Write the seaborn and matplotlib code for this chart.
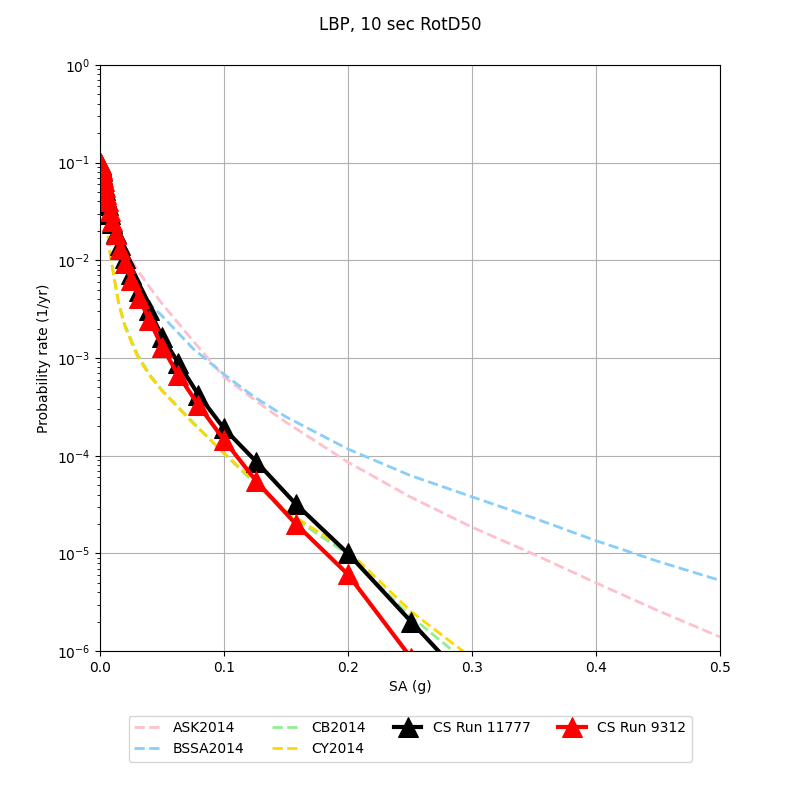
import numpy as np
import pandas as pd
import seaborn as sns
import matplotlib
matplotlib.use('Agg')
import matplotlib.pyplot as plt

# GMPE hazard curves (dashed)
gmpe_x = [0.0001, 0.001, 0.002, 0.003, 0.005, 0.0075, 0.01, 0.015, 0.02, 0.03,
          0.04, 0.05, 0.075, 0.1, 0.125, 0.15, 0.2, 0.25, 0.3, 0.35, 0.4, 0.45,
          0.5]
ask = [0.1, 0.095, 0.085, 0.075, 0.055, 0.038, 0.028, 0.018, 0.0135, 0.008,
       0.0053, 0.0036, 0.0015, 6.4e-4, 3.7e-4, 2.2e-4, 8.6e-5, 3.8e-5, 1.86e-5,
       9.8e-6, 5.0e-6, 2.6e-6, 1.4e-6]
bssa = [0.1, 0.093, 0.08, 0.068, 0.048, 0.032, 0.023, 0.014, 0.0095, 0.0053,
        0.0036, 0.0027, 0.00125, 6.8e-4, 3.95e-4, 2.5e-4, 1.17e-4, 6.3e-5,
        3.8e-5, 2.3e-5, 1.35e-5, 8.3e-6, 5.3e-6]
cb = [0.1, 0.087, 0.067, 0.052, 0.029, 0.0135, 0.0086, 0.0037, 0.0022, 0.0011,
      6.8e-4, 4.7e-4, 2.2e-4, 1.05e-4, 5.2e-5, 2.6e-5, 9.8e-6, 2.3e-6, 7e-7,
      1.5e-7, 4e-8, 1e-8, 3e-9]
cy = [0.1, 0.085, 0.065, 0.05, 0.028, 0.013, 0.0083, 0.0036, 0.0021, 0.00105,
      6.6e-4, 4.6e-4, 2.15e-4, 1.07e-4, 5.4e-5, 2.7e-5, 1.07e-5, 2.6e-6,
      8.5e-7, 2e-7, 6e-8, 1.5e-8, 4e-9]

# CyberShake runs (markers)
cs_x = [0.0001, 0.000126, 0.000158, 0.0002, 0.000251, 0.000316, 0.000398,
        0.000501, 0.000631, 0.000794, 0.001, 0.00126, 0.00158, 0.002, 0.00251,
        0.00316, 0.00398, 0.00501, 0.00631, 0.00794, 0.01, 0.0126, 0.0158,
        0.02, 0.0251, 0.0316, 0.0398, 0.0501, 0.0631, 0.0794, 0.1, 0.126,
        0.158, 0.2, 0.251, 0.316]
run_11777 = [0.098, 0.098, 0.0975, 0.097, 0.0965, 0.096, 0.095, 0.094, 0.092,
             0.089, 0.086, 0.082, 0.077, 0.072, 0.066, 0.059, 0.052, 0.044,
             0.037, 0.030, 0.024, 0.019, 0.0142, 0.0105, 0.0073, 0.0049,
             0.0031, 0.00165, 8.9e-4, 4.2e-4, 1.9e-4, 8.7e-5, 3.2e-5, 1.0e-5,
             2.0e-6, 2.6e-7]
run_9312 = [0.100, 0.100, 0.0995, 0.099, 0.0985, 0.098, 0.097, 0.096, 0.094,
            0.092, 0.089, 0.086, 0.082, 0.077, 0.071, 0.064, 0.056, 0.048,
            0.040, 0.032, 0.025, 0.0185, 0.013, 0.0094, 0.0063, 0.0041,
            0.00245, 0.0013, 6.7e-4, 3.3e-4, 1.45e-4, 5.5e-5, 2.0e-5, 6.1e-6,
            8.5e-7, 6e-8]

gmpes = [('ASK2014', ask, 'pink'), ('BSSA2014', bssa, 'lightskyblue'),
         ('CB2014', cb, 'lightgreen'), ('CY2014', cy, 'gold')]
runs = [('CS Run 11777', run_11777, 'black'), ('CS Run 9312', run_9312, 'red')]

fig, ax = plt.subplots(figsize=(8, 8), dpi=100)
fig.subplots_adjust(left=0.125, right=0.9, top=0.919, bottom=0.186)

for name, vals, col in gmpes:
    df = pd.DataFrame({'x': gmpe_x, 'y': vals})
    sns.lineplot(data=df, x='x', y='y', ax=ax, color=col, linestyle='--',
                 linewidth=2, label=name, sort=False, estimator=None)

for name, vals, col in runs:
    df = pd.DataFrame({'x': cs_x, 'y': vals})
    sns.lineplot(data=df, x='x', y='y', ax=ax, color=col, linewidth=3,
                 marker='^', markersize=15, markeredgecolor=col,
                 label=name, sort=False, estimator=None)

ax.set_yscale('log')
ax.set_xlim(0, 0.5)
ax.set_ylim(1e-6, 1)
ax.grid(True, which='major')
ax.set_xlabel('SA (g)')
ax.set_ylabel('Probability rate (1/yr)')
fig.suptitle('LBP, 10 sec RotD50')
ax.legend(loc='upper center', bbox_to_anchor=(0.5, -0.098), ncol=4)

fig.savefig('out.png')
